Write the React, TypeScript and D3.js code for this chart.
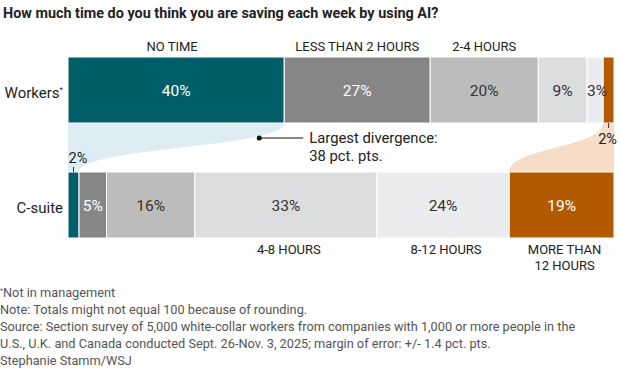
import React from "react";
import * as d3 from "d3";

const categories = ["NO TIME", "LESS THAN 2 HOURS", "2-4 HOURS", "4-8 HOURS", "8-12 HOURS", "MORE THAN|12 HOURS"];
const workers = [40, 27, 20, 9, 3, 2];
const csuite = [2, 5, 16, 33, 24, 19];
const rowLabels = ["Workers", "C-suite"];
const colors = ["#005e69", "#868686", "#bcbcbc", "#dcdddf", "#ebecee", "#b35a00"];
const textColors = ["#ffffff", "#ffffff", "#333333", "#333333", "#333333", "#ffffff"];
const topLabelIdx = [0, 1, 2];
const bottomLabelIdx = [3, 4, 5];
const footnotes = [
  "Note: Totals might not equal 100 because of rounding.",
  "Source: Section survey of 5,000 white-collar workers from companies with 1,000 or more people in the",
  "U.S., U.K. and Canada conducted Sept. 26-Nov. 3, 2025; margin of error: +/- 1.4 pct. pts.",
  "Stephanie Stamm/WSJ",
];

const W = 620;
const H = 376;
const FONT = "Roboto, 'Noto Sans', sans-serif";

export default function App() {
  const x0 = 68;
  const x1 = 614;
  const rowY = d3.scaleOrdinal<string, number>().domain(rowLabels).range([57, 172]);
  const barH = 66;
  const xW = d3.scaleLinear().domain([0, d3.sum(workers)]).range([x0, x1]);
  const xC = d3.scaleLinear().domain([0, d3.sum(csuite)]).range([x0, x1]);
  const cumW = d3.cumsum(workers);
  const cumC = d3.cumsum(csuite);
  const startW = workers.map((v, i) => cumW[i] - v);
  const startC = csuite.map((v, i) => cumC[i] - v);

  const yTopBottom = rowY("Workers") + barH;
  const yBotTop = rowY("C-suite");
  const ym = (yTopBottom + yBotTop) / 2;

  const band = (ta: number, tb: number, ba: number, bb: number) => {
    const p = d3.path();
    p.moveTo(ta, yTopBottom);
    p.lineTo(tb, yTopBottom);
    p.bezierCurveTo(tb, ym, bb, ym, bb, yBotTop);
    p.lineTo(ba, yBotTop);
    p.bezierCurveTo(ba, ym, ta, ym, ta, yTopBottom);
    p.closePath();
    return p.toString();
  };

  const blue = band(xW(startW[0]), xW(cumW[0]), xC(startC[0]), xC(cumC[0]));
  const peach = band(xW(startW[5]), xW(cumW[5]), xC(startC[5]), xC(cumC[5]));

  const renderRow = (vals: number[], starts: number[], cums: number[], xs: d3.ScaleLinear<number, number>, label: string, below: boolean) => {
    const y = rowY(label);
    return (
      <g key={label}>
        {vals.map((v, i) => (
          <rect key={i} x={xs(starts[i])} y={y} width={xs(cums[i]) - xs(starts[i])} height={barH} fill={colors[i]} stroke="#ffffff" strokeWidth={1} />
        ))}
        {vals.map((v, i) => {
          const cx = (xs(starts[i]) + xs(cums[i])) / 2;
          if (v < 3) {
            if (below) {
              return (
                <g key={"l" + i}>
                  <line x1={cx} x2={cx} y1={y + barH} y2={y + barH + 5} stroke="#333" strokeWidth={1} />
                  <text x={cx - 1} y={y + barH + 21} textAnchor="middle" fontSize={14.5} fill="#222">{v}%</text>
                </g>
              );
            }
            return (
              <g key={"l" + i}>
                <line x1={cx} x2={cx} y1={y} y2={y - 5} stroke="#333" strokeWidth={1} />
                <text x={cx - 5} y={y - 9} textAnchor="start" fontSize={14.5} fill="#222">{v}%</text>
              </g>
            );
          }
          return (
            <text key={"l" + i} x={cx + (v === 3 ? 2 : 0)} y={y + barH / 2 + 6} textAnchor="middle" fontSize={15.5} fill={textColors[i]}>{v}%</text>
          );
        })}
      </g>
    );
  };

  const dotX = xW(cumW[0]) - 25;
  const dotY = yTopBottom + 15;

  return (
    <svg width={W} height={H} style={{ position: "absolute", left: 0, top: 0, fontFamily: FONT }}>
      <rect x={0} y={0} width={W} height={H} fill="#ffffff" />
      <text x={3} y={18} fontSize={14.4} fontWeight={700} fill="#222">How much time do you think you are saving each week by using AI?</text>

      {topLabelIdx.map((i) => (
        <text key={"t" + i} x={(xW(startW[i]) + xW(cumW[i])) / 2 - (i === 0 ? 4 : 0)} y={51} textAnchor="middle" fontSize={13} fill="#222">{categories[i]}</text>
      ))}

      <path d={blue} fill="#deedf4" />
      <path d={peach} fill="#f7dcc8" />

      {renderRow(workers, startW, cumW, xW, "Workers", true)}
      {renderRow(csuite, startC, cumC, xC, "C-suite", false)}

      <text x={63} y={98} textAnchor="end" fontSize={15} fill="#222">
        Workers<tspan fontSize={8} dy={-6}>*</tspan>
      </text>
      <text x={63} y={213} textAnchor="end" fontSize={15} fill="#222">C-suite</text>

      <circle cx={dotX} cy={dotY} r={2.5} fill="#111" />
      <line x1={dotX} x2={dotX + 44} y1={dotY} y2={dotY} stroke="#111" strokeWidth={1} />
      <text x={dotX + 50} y={dotY + 5} fontSize={14.8} fill="#222">Largest divergence:</text>
      <text x={dotX + 50} y={dotY + 23} fontSize={14.8} fill="#222">38 pct. pts.</text>

      {bottomLabelIdx.map((i) => {
        const cx = (xC(startC[i]) + xC(cumC[i])) / 2 + 3;
        const lines = categories[i].split("|");
        return (
          <text key={"b" + i} x={cx} y={254} textAnchor="middle" fontSize={13} fill="#222">
            {lines.map((ln, j) => (
              <tspan key={j} x={cx} dy={j === 0 ? 0 : 16}>{ln}</tspan>
            ))}
          </text>
        );
      })}

      <text x={0} y={297} fontSize={12.75} fill="#555">
        <tspan fontSize={7} dy={-4}>*</tspan><tspan dy={4}>Not in management</tspan>
      </text>
      {footnotes.map((f, i) => (
        <text key={"f" + i} x={0} y={314 + i * 17} fontSize={12.75} fill="#555">{f}</text>
      ))}
    </svg>
  );
}
